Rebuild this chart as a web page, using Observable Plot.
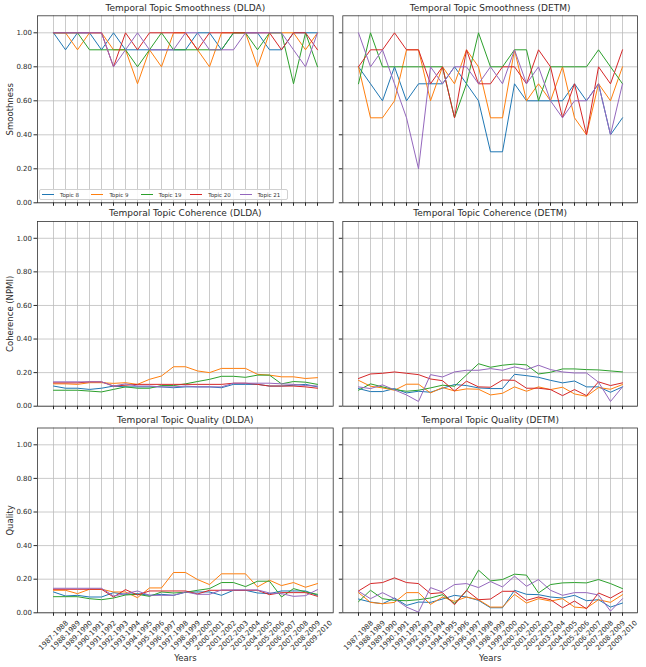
<!DOCTYPE html>
<html><head><meta charset="utf-8">
<script src="https://cdn.jsdelivr.net/npm/d3@7"></script>
<script src="https://cdn.jsdelivr.net/npm/@observablehq/plot@0.6"></script>
<style>
body{margin:0;background:#fff;font-family:"DejaVu Sans",sans-serif}
#wrap{position:relative;width:646px;height:667px;overflow:hidden}
.panel{position:absolute}
.legend{position:absolute;left:39px;top:189px;width:247px;height:9px;border:1px solid #d0d0d0;border-radius:2px;background:rgba(255,255,255,0.85);display:flex;align-items:center;font-size:5.5px;color:#333}
.legend .item{width:49.5px;display:flex;align-items:center}
.legend .sw{display:inline-block;width:12px;height:0;border-top:1px solid;margin-left:2px;margin-right:6px}
</style></head><body><div id="wrap"></div>
<script>
const years = ["1987-1988","1988-1989","1989-1990","1990-1991","1991-1992","1992-1993","1993-1994","1994-1995","1995-1996","1996-1997","1997-1998","1998-1999","1999-2000","2000-2001","2001-2002","2002-2003","2003-2004","2004-2005","2005-2006","2006-2007","2007-2008","2008-2009","2009-2010"];
const topics = ["Topic 8","Topic 9","Topic 19","Topic 20","Topic 21"];
const colors = ["#1f77b4","#ff7f0e","#2ca02c","#d62728","#9467bd"];
const yTicks = [0,0.2,0.4,0.6,0.8,1.0];

// Smoothness (DLDA), one array per topic
const smoothDLDA_t8  = [1.0,0.9,1.0,1.0,0.9,1.0,0.9,0.9,0.9,0.9,0.9,0.9,1.0,1.0,0.9,1.0,1.0,1.0,0.9,0.9,1.0,1.0,1.0];
const smoothDLDA_t9  = [1.0,1.0,0.9,1.0,1.0,0.9,0.9,0.7,0.9,0.8,1.0,1.0,0.9,0.8,1.0,1.0,1.0,0.8,1.0,1.0,1.0,0.9,1.0];
const smoothDLDA_t19 = [1.0,1.0,1.0,0.9,0.9,0.9,0.9,0.8,0.9,1.0,0.9,0.9,0.9,0.9,0.9,1.0,1.0,0.9,1.0,1.0,0.7,1.0,0.8];
const smoothDLDA_t20 = [1.0,1.0,1.0,1.0,1.0,0.8,1.0,0.9,1.0,1.0,1.0,1.0,0.9,1.0,1.0,1.0,1.0,1.0,1.0,0.9,1.0,1.0,0.9];
const smoothDLDA_t21 = [1.0,1.0,1.0,1.0,1.0,0.8,0.9,1.0,0.9,0.9,0.9,1.0,1.0,0.9,0.9,0.9,1.0,1.0,1.0,1.0,0.9,0.8,1.0];

// Smoothness (DETM)
const smoothDETM_t8  = [0.8,0.7,0.6,0.8,0.6,0.7,0.7,0.7,0.8,0.7,0.6,0.3,0.3,0.7,0.6,0.6,0.6,0.6,0.7,0.6,0.7,0.4,0.5];
const smoothDETM_t9  = [0.8,0.5,0.5,0.6,0.9,0.9,0.6,0.8,0.7,0.9,0.8,0.5,0.5,0.9,0.6,0.7,0.6,0.8,0.5,0.4,0.7,0.6,0.8];
const smoothDETM_t19 = [0.7,1.0,0.8,0.8,0.8,0.8,0.8,0.8,0.5,0.7,1.0,0.8,0.8,0.9,0.9,0.6,0.8,0.8,0.8,0.8,0.9,0.8,0.7];
const smoothDETM_t20 = [0.8,0.9,0.9,1.0,0.9,0.9,0.7,0.8,0.5,0.9,0.7,0.7,0.8,0.8,0.7,0.9,0.8,0.5,0.7,0.4,0.8,0.7,0.9];
const smoothDETM_t21 = [1.0,0.8,0.9,0.7,0.5,0.2,0.8,0.7,0.8,0.8,0.7,0.8,0.7,0.9,0.7,0.8,0.6,0.5,0.6,0.6,0.7,0.4,0.7];

// Coherence NPMI (DLDA)
const cohDLDA_t8  = [0.120,0.107,0.107,0.100,0.107,0.120,0.115,0.115,0.115,0.115,0.110,0.115,0.115,0.115,0.110,0.130,0.130,0.130,0.120,0.120,0.125,0.130,0.115];
const cohDLDA_t9  = [0.133,0.133,0.130,0.140,0.140,0.136,0.140,0.130,0.160,0.180,0.235,0.235,0.210,0.200,0.225,0.225,0.225,0.190,0.185,0.175,0.175,0.165,0.170];
const cohDLDA_t19 = [0.095,0.095,0.095,0.090,0.085,0.100,0.115,0.107,0.107,0.123,0.123,0.133,0.147,0.160,0.178,0.178,0.172,0.185,0.185,0.133,0.147,0.143,0.130];
const cohDLDA_t20 = [0.139,0.139,0.139,0.145,0.145,0.120,0.125,0.130,0.130,0.130,0.130,0.130,0.130,0.130,0.130,0.137,0.137,0.130,0.120,0.120,0.120,0.115,0.107];
const cohDLDA_t21 = [0.145,0.145,0.145,0.145,0.145,0.120,0.133,0.120,0.120,0.115,0.115,0.120,0.115,0.115,0.115,0.137,0.137,0.137,0.137,0.133,0.130,0.123,0.120];

// Coherence NPMI (DETM)
const cohDETM_t8  = [0.105,0.087,0.087,0.105,0.079,0.089,0.083,0.107,0.129,0.123,0.109,0.105,0.105,0.190,0.182,0.172,0.154,0.139,0.150,0.115,0.115,0.083,0.115];
const cohDETM_t9  = [0.154,0.119,0.109,0.095,0.131,0.131,0.079,0.111,0.091,0.103,0.101,0.067,0.077,0.115,0.089,0.115,0.099,0.113,0.073,0.059,0.111,0.101,0.129];
const cohDETM_t19 = [0.095,0.133,0.115,0.099,0.089,0.095,0.109,0.125,0.119,0.186,0.253,0.232,0.244,0.251,0.246,0.192,0.202,0.222,0.222,0.218,0.216,0.210,0.204];
const cohDETM_t20 = [0.165,0.192,0.196,0.204,0.196,0.188,0.162,0.152,0.091,0.149,0.115,0.113,0.156,0.154,0.107,0.107,0.099,0.063,0.099,0.063,0.145,0.123,0.139];
const cohDETM_t21 = [0.115,0.105,0.127,0.097,0.067,0.028,0.188,0.174,0.204,0.214,0.214,0.224,0.214,0.234,0.218,0.244,0.218,0.204,0.198,0.198,0.143,0.028,0.115];

// Quality (DLDA)
const qualDLDA_t8  = [0.124,0.100,0.104,0.094,0.094,0.120,0.110,0.114,0.104,0.110,0.104,0.122,0.124,0.124,0.104,0.134,0.134,0.118,0.114,0.130,0.130,0.130,0.104];
const qualDLDA_t9  = [0.134,0.134,0.114,0.140,0.140,0.124,0.124,0.090,0.148,0.148,0.240,0.240,0.198,0.168,0.232,0.232,0.232,0.154,0.194,0.162,0.180,0.152,0.174];
const qualDLDA_t19 = [0.096,0.096,0.096,0.084,0.078,0.088,0.106,0.110,0.098,0.124,0.118,0.122,0.134,0.144,0.180,0.180,0.156,0.188,0.188,0.094,0.144,0.124,0.110];
const qualDLDA_t20 = [0.140,0.140,0.140,0.140,0.140,0.094,0.138,0.106,0.130,0.130,0.130,0.130,0.112,0.134,0.134,0.134,0.134,0.134,0.108,0.120,0.120,0.120,0.098];
const qualDLDA_t21 = [0.146,0.146,0.146,0.146,0.146,0.100,0.114,0.130,0.104,0.104,0.104,0.124,0.110,0.110,0.136,0.136,0.136,0.136,0.118,0.114,0.098,0.102,0.138];

// Quality (DETM)
const qualDETM_t8  = [0.082,0.064,0.054,0.088,0.044,0.064,0.062,0.082,0.104,0.094,0.074,0.030,0.030,0.134,0.110,0.108,0.094,0.088,0.104,0.072,0.078,0.034,0.058];
const qualDETM_t9  = [0.120,0.062,0.054,0.062,0.120,0.120,0.050,0.094,0.068,0.094,0.078,0.034,0.034,0.110,0.058,0.084,0.070,0.084,0.034,0.028,0.078,0.062,0.108];
const qualDETM_t19 = [0.066,0.134,0.084,0.074,0.072,0.078,0.088,0.108,0.056,0.130,0.254,0.190,0.198,0.230,0.224,0.118,0.168,0.178,0.180,0.178,0.198,0.174,0.144];
const qualDETM_t20 = [0.130,0.174,0.180,0.208,0.180,0.174,0.114,0.120,0.048,0.134,0.078,0.082,0.128,0.128,0.074,0.094,0.078,0.030,0.070,0.024,0.118,0.088,0.128];
const qualDETM_t21 = [0.128,0.084,0.120,0.084,0.034,0.004,0.150,0.124,0.168,0.174,0.150,0.186,0.154,0.218,0.158,0.198,0.134,0.104,0.120,0.120,0.106,0.010,0.084];

const panels = [
  {title:"Temporal Topic Smoothness (DLDA)", series:[smoothDLDA_t8,smoothDLDA_t9,smoothDLDA_t19,smoothDLDA_t20,smoothDLDA_t21], col:0, row:0, yLabel:"Smoothness"},
  {title:"Temporal Topic Smoothness (DETM)", series:[smoothDETM_t8,smoothDETM_t9,smoothDETM_t19,smoothDETM_t20,smoothDETM_t21], col:1, row:0},
  {title:"Temporal Topic Coherence (DLDA)", series:[cohDLDA_t8,cohDLDA_t9,cohDLDA_t19,cohDLDA_t20,cohDLDA_t21], col:0, row:1, yLabel:"Coherence (NPMI)"},
  {title:"Temporal Topic Coherence (DETM)", series:[cohDETM_t8,cohDETM_t9,cohDETM_t19,cohDETM_t20,cohDETM_t21], col:1, row:1},
  {title:"Temporal Topic Quality (DLDA)", series:[qualDLDA_t8,qualDLDA_t9,qualDLDA_t19,qualDLDA_t20,qualDLDA_t21], col:0, row:2, yLabel:"Quality", xLabel:"Years"},
  {title:"Temporal Topic Quality (DETM)", series:[qualDETM_t8,qualDETM_t9,qualDETM_t19,qualDETM_t20,qualDETM_t21], col:1, row:2, xLabel:"Years"}
];

const cols = [
  {left:0, width:337, mL:37, mR:4.3},
  {left:337, width:309, mL:5.3, mR:9}
];
const rowsL = [
  {top:0, height:210, mT:15.3, mB:7.7},
  {top:210, height:206, mT:11, mB:10.3},
  {top:416, height:251, mT:11.5, mB:54.7}
];

const wrap = document.getElementById("wrap");
const f2 = d3.format(".2f");
const ink = "#2a2a2a";

for (const p of panels) {
  const c = cols[p.col], r = rowsL[p.row];
  const data = [];
  p.series.forEach((arr, k) => arr.forEach((v, i) => data.push({topic: topics[k], year: years[i], value: v})));
  const bottom = p.row === 2;
  const marks = [
    Plot.gridX(years, {x: d => d, stroke: "#bcbcbc", strokeOpacity: 1, strokeWidth: 0.8}),
    Plot.gridY(yTicks, {stroke: "#bcbcbc", strokeOpacity: 1, strokeWidth: 0.8}),
    Plot.line(data, {x: "year", y: "value", z: "topic", stroke: "topic", strokeWidth: 1}),
    Plot.frame({stroke: "#333", strokeWidth: 0.8}),
    Plot.axisX({tickSize: 3.5, tickFormat: () => "", label: null}),
    Plot.axisY(yTicks, {tickSize: 3.5, tickPadding: 2, tickFormat: p.col === 0 ? f2 : () => "", label: null, fontSize: 7, fill: ink}),
    Plot.text([p.title], {text: d => d, frameAnchor: "top", lineAnchor: "middle", dy: -8, fontSize: 9, fontWeight: "normal", fill: ink})
  ];
  if (bottom) marks.push(Plot.text(years, {x: d => d, text: d => d, frameAnchor: "bottom", rotate: -45, textAnchor: "middle", lineAnchor: "middle", dy: 22.5, fontSize: 7, fill: ink}));
  if (p.yLabel) marks.push(Plot.text([p.yLabel], {text: d => d, frameAnchor: "left", rotate: -90, dx: -27, textAnchor: "middle", lineAnchor: "middle", fontSize: 8.5, fill: ink}));
  if (p.xLabel) marks.push(Plot.text([p.xLabel], {text: d => d, frameAnchor: "bottom", dy: 45, lineAnchor: "middle", fontSize: 8.5, fill: ink}));
  const svg = Plot.plot({
    width: c.width, height: r.height,
    marginLeft: c.mL, marginRight: c.mR, marginTop: r.mT, marginBottom: r.mB,
    style: {fontFamily: "DejaVu Sans", fontSize: "7px", background: "transparent", overflow: "visible", color: ink},
    x: {type: "point", domain: years, padding: 1.1, align: 0.5},
    y: {domain: [0, 1.1]},
    color: {domain: topics, range: colors},
    marks
  });
  const div = document.createElement("div");
  div.className = "panel";
  div.style.left = c.left + "px";
  div.style.top = r.top + "px";
  div.appendChild(svg);
  wrap.appendChild(div);
}

// legend in the first panel
const legend = document.createElement("div");
legend.className = "legend";
topics.forEach((t, k) => {
  const item = document.createElement("div");
  item.className = "item";
  const sw = document.createElement("span");
  sw.className = "sw";
  sw.style.borderTopColor = colors[k];
  const lab = document.createElement("span");
  lab.textContent = t;
  item.appendChild(sw);
  item.appendChild(lab);
  legend.appendChild(item);
});
wrap.appendChild(legend);
</script></body></html>
